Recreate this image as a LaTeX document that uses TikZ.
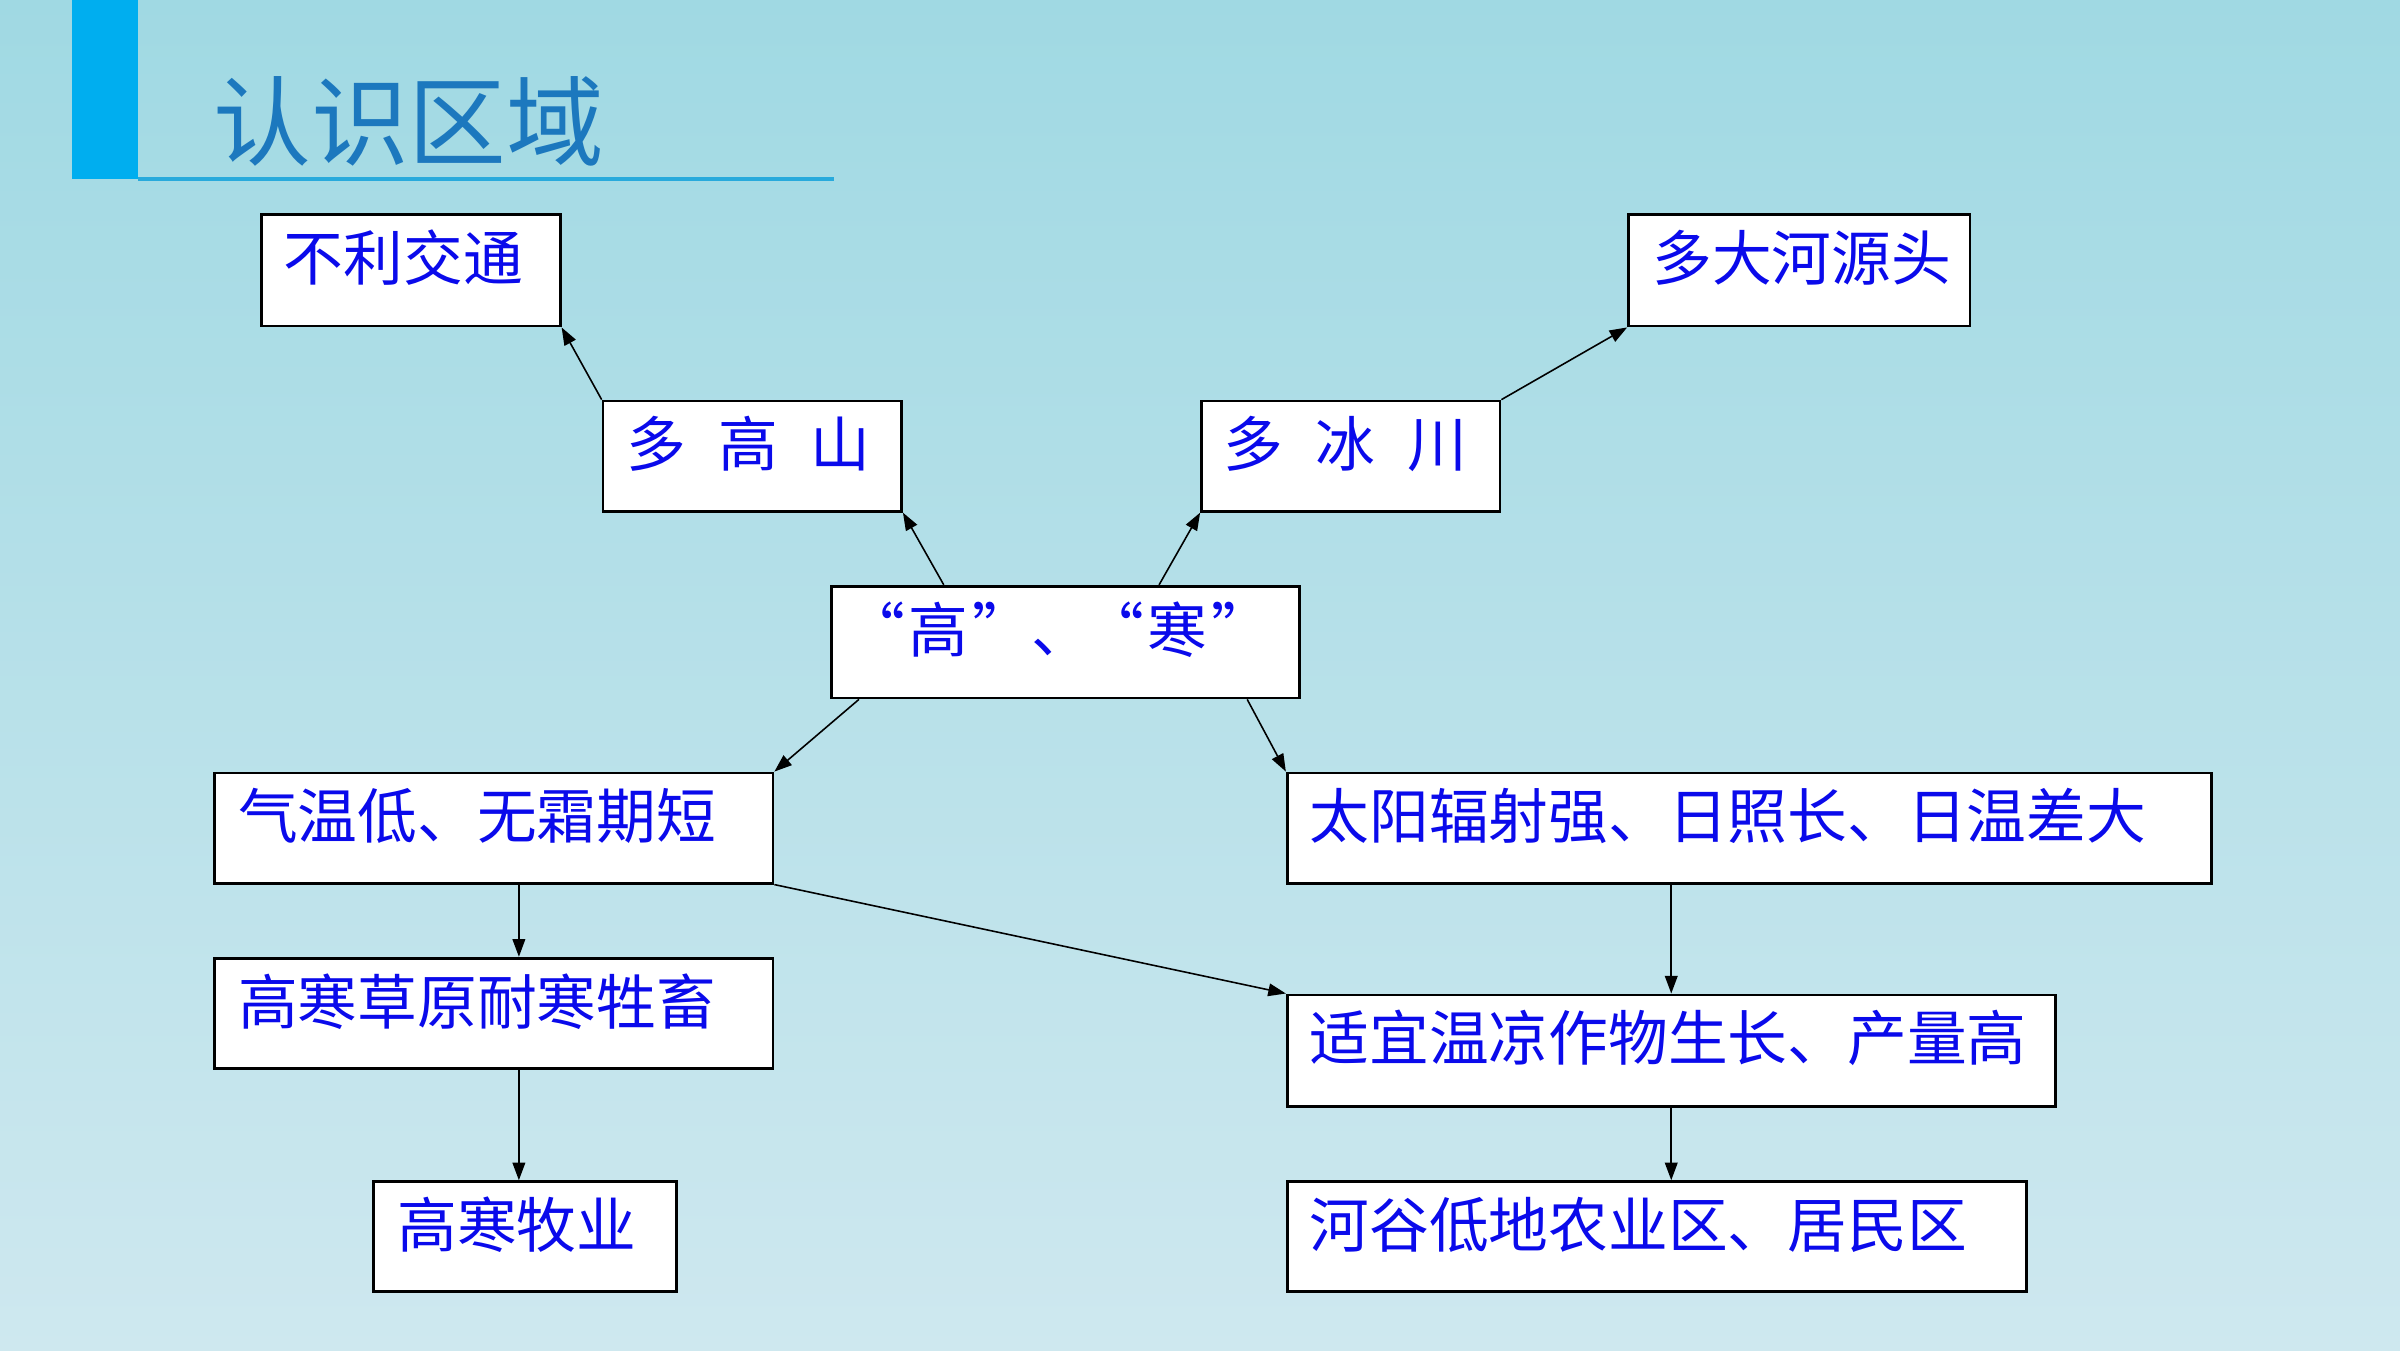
\documentclass[tikz,border=0pt]{standalone}
\usepackage{fontspec}
\newfontfamily\cjk{Noto Sans CJK SC}
\usetikzlibrary{arrows.meta,calc,fit}
\definecolor{bgtop}{RGB}{160,217,227}
\definecolor{bgbot}{RGB}{206,232,239}
\definecolor{barblue}{RGB}{0,174,239}
\definecolor{lineblue}{RGB}{40,170,220}
\definecolor{titleblue}{RGB}{28,120,190}
\definecolor{txtblue}{RGB}{10,10,235}
\tikzset{
  box/.style={draw=black, line width=0.8pt, fill=white, inner sep=0pt, rectangle},
  txt/.style={text=txtblue, font=\cjk\fontsize{17pt}{20pt}\selectfont, inner sep=0pt, anchor=base west},
  arr/.style={draw=black, line width=0.45pt, -{Triangle[length=5pt,width=3.6pt]}},
}
\begin{document}
\begin{tikzpicture}[x=0.0153061cm,y=-0.0153061cm]
\useasboundingbox (0,0) rectangle (1568,882);
\shade[top color=bgtop, bottom color=bgbot] (0,0) rectangle (1568,882);
% title bar
\fill[barblue] (47,0) rectangle (90,117);
\draw[lineblue, line width=1pt] (90,117) -- (545,117);
\node[anchor=west, inner sep=0pt, text=titleblue, font=\cjk\fontsize{27.8pt}{32pt}\selectfont] (title) at (139,79) {认识区域};
% boxes
\node[box, fit={(171,140) (366,213)}] (b1) {};
\node[box, fit={(394,262) (589,334)}] (b2) {};
\node[box, fit={(785,262) (980,334)}] (b3) {};
\node[box, fit={(1064,140) (1287,213)}] (b4) {};
\node[box, fit={(543,383) (849,456)}] (b5) {};
\node[box, fit={(140,505) (505,577)}] (b6) {};
\node[box, fit={(841,505) (1445,577)}] (b7) {};
\node[box, fit={(140,626) (505,698)}] (b8) {};
\node[box, fit={(841,650) (1343,723)}] (b9) {};
\node[box, fit={(244,772) (442,844)}] (b10) {};
\node[box, fit={(841,772) (1324,844)}] (b11) {};
% texts
\node[txt] (t1) at ($(b1.north west)+(15,44)$) {不利交通};
\node[txt] (t2) at ($(b2.north west)+(16,44)$) {多\hspace{0.32cm}高\hspace{0.32cm}山};
\node[txt] (t3) at ($(b3.north west)+(15,44)$) {多\hspace{0.32cm}冰\hspace{0.32cm}川};
\node[txt] (t4) at ($(b4.north west)+(16,44)$) {多大河源头};
\node[txt] (t5) at ($(b5.north west)+(10,44)$) {“\kern1pt 高\kern1pt ”、\kern-2pt “\kern1pt 寒\kern1pt ”};
\node[txt] (t6) at ($(b6.north west)+(16,44)$) {气温低、无霜期短};
\node[txt] (t7) at ($(b7.north west)+(15,44)$) {太阳辐射强、日照长、日温差大};
\node[txt] (t8) at ($(b8.north west)+(16,44)$) {高寒草原耐寒牲畜};
\node[txt] (t9) at ($(b9.north west)+(15,44)$) {适宜温凉作物生长、产量高};
\node[txt] (t10) at ($(b10.north west)+(16,44)$) {高寒牧业};
\node[txt] (t11) at ($(b11.north west)+(15,44)$) {河谷低地农业区、居民区};
% connectors
\draw[arr] (b2.north west) -- (b1.south east);
\draw[arr] (b3.north east) -- (b4.south west);
\coordinate (p5a) at ($(b5.north west)!0.242!(b5.north east)$);
\coordinate (p5b) at ($(b5.north west)!0.699!(b5.north east)$);
\coordinate (p5c) at ($(b5.south west)!0.062!(b5.south east)$);
\coordinate (p5d) at ($(b5.south west)!0.886!(b5.south east)$);
\draw[arr] (p5a) -- (b2.south east);
\draw[arr] (p5b) -- (b3.south west);
\draw[arr] (p5c) -- (b6.north east);
\draw[arr] (p5d) -- (b7.north west);
\coordinate (p6) at ($(b6.south west)!0.545!(b6.south east)$);
\draw[arr] (p6) -- (p6 |- b8.north);
\coordinate (p8) at ($(b8.south west)!0.545!(b8.south east)$);
\draw[arr] (p8) -- (p8 |- b10.north);
\draw[arr] (b6.south east) -- (b9.north west);
\coordinate (p7) at ($(b7.south west)!0.4156!(b7.south east)$);
\draw[arr] (p7) -- (p7 |- b9.north);
\draw[arr] (p7 |- b9.south) -- (p7 |- b11.north);
\end{tikzpicture}
\end{document}
